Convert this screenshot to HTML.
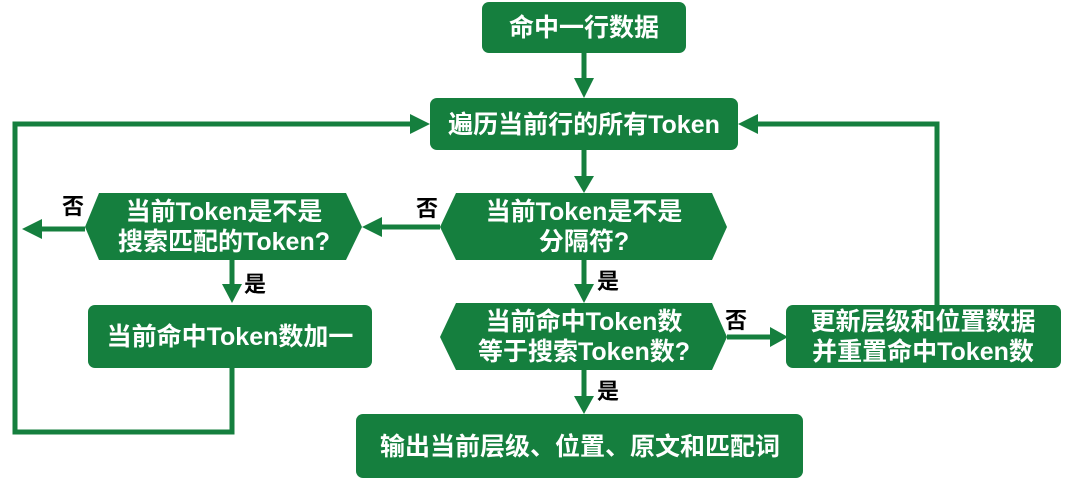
<!DOCTYPE html>
<html><head><meta charset="utf-8"><style>
html,body{margin:0;padding:0;background:#fff;width:1080px;height:479px;overflow:hidden}
svg{display:block}
text{font-family:"Liberation Sans","Noto Sans CJK SC",sans-serif;font-weight:bold}
.w{fill:#fff;font-size:25px}
.k{fill:#000;font-size:22px}
</style></head><body>
<svg width="1080" height="479" viewBox="0 0 1080 479">
<g fill="#157f3e">
<rect x="482" y="2" width="204" height="51" rx="7"/>
<rect x="430" y="98" width="308" height="52" rx="7"/>
<polygon points="440,227 456,193 712,193 727,227 712,260 456,260"/>
<polygon points="85,227 99,193 346,193 362,227 346,260 99,260"/>
<polygon points="440,337 456,303 712,303 727,337 712,370 456,370"/>
<rect x="88" y="305" width="284" height="63" rx="7"/>
<rect x="786" y="305" width="275" height="63" rx="7"/>
<rect x="356" y="414" width="447" height="64" rx="7"/>
</g>
<g stroke="#157f3e" stroke-width="5" fill="none">
<line x1="584" y1="53" x2="584" y2="80"/>
<line x1="584" y1="150" x2="584" y2="178"/>
<line x1="584" y1="260" x2="584" y2="286"/>
<line x1="584" y1="370" x2="584" y2="398"/>
<line x1="440" y1="227" x2="380" y2="227"/>
<line x1="85" y1="229" x2="40" y2="229"/>
<line x1="232" y1="260" x2="232" y2="286"/>
<line x1="727" y1="337" x2="772" y2="337"/>
<polyline points="232,368 232,432 15,432 15,124 412,124"/>
<polyline points="937,305 937,124 756,124"/>
</g>
<g fill="#157f3e">
<polygon points="574,78 594,78 584,98"/>
<polygon points="574,176 594,176 584,193"/>
<polygon points="574,284 594,284 584,303"/>
<polygon points="574,396 594,396 584,414"/>
<polygon points="382,217 382,237 362,227"/>
<polygon points="42,219 42,239 22,229"/>
<polygon points="222,284 242,284 232,303"/>
<polygon points="770,327 770,347 788,337"/>
<polygon points="410,114 410,134 430,124"/>
<polygon points="758,114 758,134 738,124"/>
</g>
<text class="w" x="584" y="36" text-anchor="middle">命中一行数据</text>
<text class="w" x="584" y="133" text-anchor="middle">遍历当前行的所有Token</text>
<text class="w" x="584" y="220" text-anchor="middle">当前Token是不是</text>
<text class="w" x="584" y="250" text-anchor="middle">分隔符?</text>
<text class="w" x="224" y="220" text-anchor="middle">当前Token是不是</text>
<text class="w" x="224" y="250" text-anchor="middle">搜索匹配的Token?</text>
<text class="w" x="584" y="330" text-anchor="middle">当前命中Token数</text>
<text class="w" x="584" y="360" text-anchor="middle">等于搜索Token数?</text>
<text class="w" x="230" y="345" text-anchor="middle">当前命中Token数加一</text>
<text class="w" x="923" y="330" text-anchor="middle">更新层级和位置数据</text>
<text class="w" x="923" y="360" text-anchor="middle">并重置命中Token数</text>
<text class="w" x="580" y="455" text-anchor="middle">输出当前层级、位置、原文和匹配词</text>
<text class="k" x="62" y="214">否</text>
<text class="k" x="416" y="216">否</text>
<text class="k" x="725" y="328">否</text>
<text class="k" x="244" y="292">是</text>
<text class="k" x="597" y="289">是</text>
<text class="k" x="597" y="399">是</text>
</svg>
</body></html>
